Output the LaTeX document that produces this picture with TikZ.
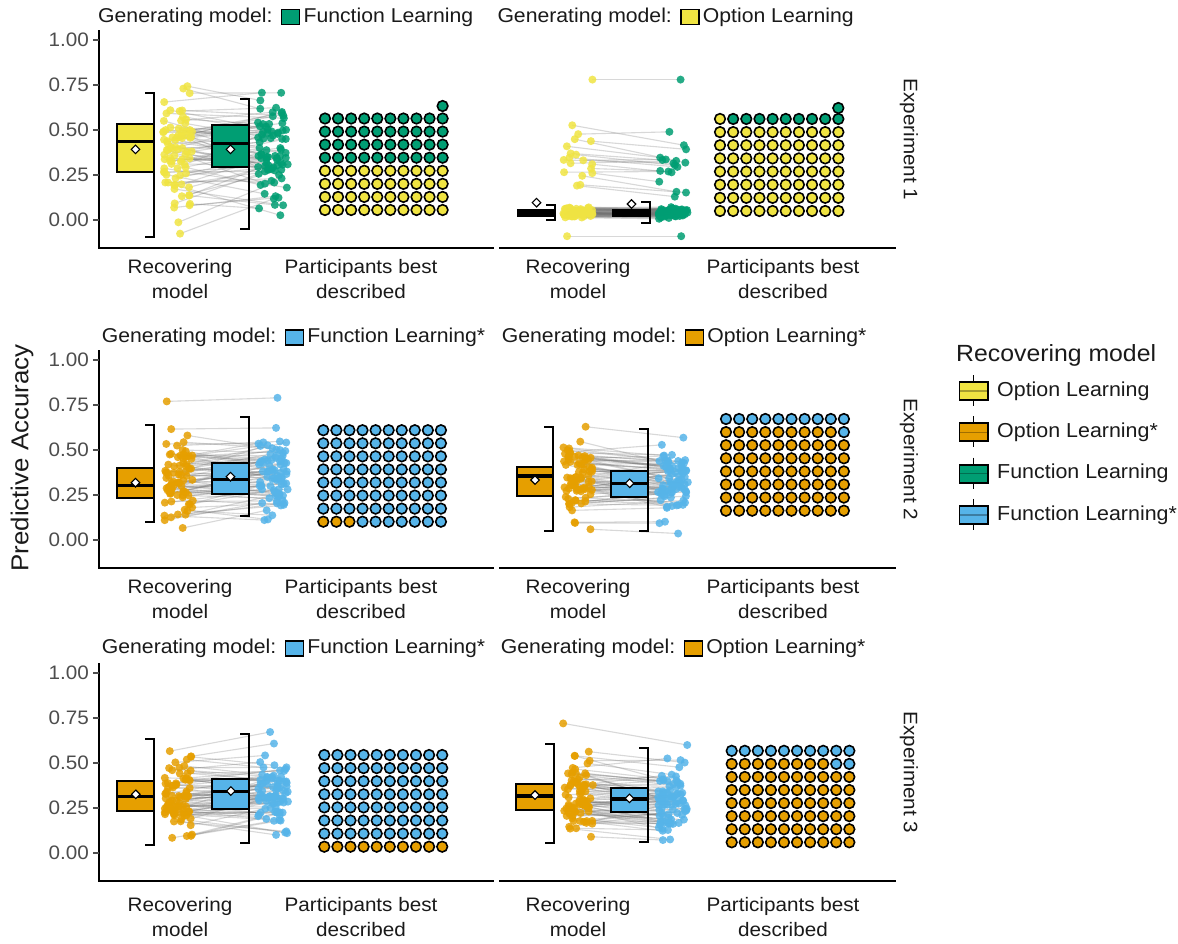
\documentclass[tikz,border=0pt]{standalone}
\usepackage{fontspec}
\setmainfont{Liberation Sans}[FakeStretch=1.06]
\usepackage{tikz}
\usetikzlibrary{positioning,shapes.geometric}
\definecolor{olyel}{HTML}{F0E442}
\definecolor{olora}{HTML}{E69F00}
\definecolor{flgrn}{HTML}{009E73}
\definecolor{flblu}{HTML}{56B4E9}
\definecolor{ticktxt}{HTML}{4D4D4D}
\definecolor{darktxt}{HTML}{1A1A1A}
% paired jittered points: n, meanA, sdA, meanB, sdB, colA, colB, seed, prefix
\newcommand{\jitpairs}[9]{%
\pgfmathsetseed{#8}%
\foreach \i in {1,...,#1}{%
\pgfmathsetmacro{\za}{rand+rand+rand}%
\pgfmathsetmacro{\zb}{0.85*\za+0.5*(rand+rand+rand)}%
\coordinate(#9a\i)at({178+15*rand},{220-180*(#2+#3*\za)});
\coordinate(#9b\i)at({273+15*rand},{220-180*(#4+#5*\zb)});}%
\foreach \i in {1,...,#1}{\draw[pairline](#9a\i)--(#9b\i);}%
\foreach \i in {1,...,#1}{\fill[jit,#6](#9a\i)circle[radius=4pt];\fill[jit,#7](#9b\i)circle[radius=4pt];}}
% box with bracket whisker: xl, xr, q3, median, q1, mean, top, bottom, colour
\newcommand{\halfbox}[9]{%
\draw[boxline,fill=#9](#1,#3)rectangle(#2,#5);
\draw[medline](#1,#4)--(#2,#4);
\draw[boxline](#2-9,#7)--(#2,#7)--(#2,#8)--(#2-9,#8);
\node[meanmark]at({(#1+#2)/2},#6){};}
% participants grid: x0, y0 (bottom left), step, nA, colA, colB
\newcommand{\dotgrid}[6]{%
\foreach \rr in {0,...,7}{\foreach \cc in {0,...,9}{%
\pgfmathtruncatemacro{\k}{\rr*10+\cc}%
\ifnum\k<#4\relax\def\dc{#5}\else\def\dc{#6}\fi
\draw[gdot,fill=\dc](#1+\cc*#3,#2-\rr*#3)circle[radius=5.3pt];}}}
\begin{document}
\begin{tikzpicture}[x=1pt,y=-1pt,
lbl/.style={font=\fontsize{19.5}{25}\selectfont,text=darktxt},
striplbl/.style={font=\fontsize{20}{25}\selectfont,text=darktxt,inner sep=0},
ticklbl/.style={font=\fontsize{19.5}{25}\selectfont,text=ticktxt,anchor=east,inner sep=0},
axisline/.style={line width=2.2pt,line cap=rect},
pairline/.style={line width=1.1pt,black!55,opacity=.28},
jit/.style={opacity=.85},
boxline/.style={line width=2pt,black,line join=miter},
medline/.style={line width=3.5pt,black},
meanmark/.style={diamond,draw,fill=white,line width=1.1pt,inner sep=0,minimum width=9pt,minimum height=9pt},
gdot/.style={draw=black,line width=1.6pt},
stripkey/.style={draw,line width=1.6pt,minimum width=18pt,minimum height=15pt,inner sep=0}]
\useasboundingbox[fill=white](0,0)rectangle(1178,943);
% axes, ticks and labels of each experiment
\foreach \row/\yo/\ly in {1/0/279.5,2/320/279.5,3/633/284.5}{
\begin{scope}[shift={(0,\yo)}]
\draw[axisline](98.7,31)--(98.7,248.3)--(493,248.3);
\draw[axisline](500,248.3)--(895,248.3);
\foreach \v[count=\k] in {0.00,0.25,0.50,0.75,1.00}{
\draw[ticktxt,line width=1.5pt](93,220-180*\v)--(98.7,220-180*\v);
\node[ticklbl](tk\row\k)at(89,220-180*\v){\v};}
\node[lbl,align=center](recl\row)at(180,\ly){Recovering\\model};
\node[lbl,align=center](bestl\row)at(361,\ly){Participants best\\described};
\node[lbl,align=center](recr\row)at(578,\ly){Recovering\\model};
\node[lbl,align=center](bestr\row)at(783,\ly){Participants best\\described};
\node[lbl,rotate=-90](exp\row)at(909,139.5){Experiment \row};
\end{scope}}
% strip titles
\foreach \sx/\sy/\col/\lab[count=\k] in {98/17/flgrn/Function Learning,497.3/17/olyel/Option Learning,101.7/337.3/flblu/Function Learning*,501.7/337.3/olora/Option Learning*,101.7/648.3/flblu/Function Learning*,500.7/648.3/olora/Option Learning*}{
\node[striplbl,anchor=west](gen\k)at(\sx,\sy){Generating model:};
\node[stripkey,fill=\col,right=8pt of gen\k](key\k){};
\node[striplbl,right=3pt of key\k](mod\k){\lab};}
% experiment 1
\jitpairs{81}{0.40}{0.19}{0.39}{0.18}{olyel}{flgrn}{11}{pa}
\halfbox{117}{154}{124}{141.7}{171.7}{149.3}{92.7}{237.3}{olyel}
\halfbox{212}{249}{125}{143.3}{167.3}{149.3}{98.7}{229.3}{flgrn}
\dotgrid{325}{210}{13.07}{40}{olyel}{flgrn}
\draw[gdot,fill=flgrn](442.6,106)circle[radius=5.3pt];
\begin{scope}[shift={(400,0)}]
\jitpairs{18}{0.32}{0.09}{0.27}{0.09}{olyel}{flgrn}{12}{pbs}
\jitpairs{61}{0.04}{0.012}{0.04}{0.012}{olyel}{flgrn}{13}{pbc}
\jitpairs{1}{0.78}{0}{0.78}{0}{olyel}{flgrn}{14}{pbt}
\jitpairs{1}{-0.09}{0}{-0.09}{0}{olyel}{flgrn}{15}{pbu}
\halfbox{118}{155}{210}{213}{216}{202.7}{205}{220}{olyel}
\halfbox{213}{250}{210}{213}{216}{204}{202}{223}{flgrn}
\dotgrid{320}{211}{13.15}{71}{olyel}{flgrn}
\draw[gdot,fill=flgrn](438.3,108)circle[radius=5.3pt];
\end{scope}
% experiment 2
\begin{scope}[shift={(0,320)}]
\jitpairs{79}{0.32}{0.11}{0.345}{0.11}{olora}{flblu}{21}{pc}
\jitpairs{1}{0.77}{0}{0.79}{0}{olora}{flblu}{22}{pct}
\halfbox{117}{154}{148.3}{165.7}{178.3}{162.7}{105}{202.3}{olora}
\halfbox{212}{249}{142.7}{159.3}{174}{156.7}{97.3}{195.7}{flblu}
\dotgrid{323.3}{201.7}{13.07}{3}{olora}{flblu}
\end{scope}
\begin{scope}[shift={(400,320)}]
\jitpairs{80}{0.335}{0.11}{0.315}{0.1}{olora}{flblu}{23}{pd}
\halfbox{116.7}{153.3}{146.7}{156}{175.7}{160}{107.3}{211}{olora}
\halfbox{211}{248.3}{150.7}{163.3}{176.7}{163.3}{109.3}{211}{flblu}
\dotgrid{326}{190.7}{13.1}{69}{olora}{flblu}
\end{scope}
% experiment 3
\begin{scope}[shift={(0,633)}]
\jitpairs{80}{0.32}{0.11}{0.34}{0.115}{olora}{flblu}{31}{pe}
\halfbox{117.3}{154.3}{148}{163.7}{178}{161.3}{106}{212}{olora}
\halfbox{212.3}{249.3}{146}{158.7}{176}{158}{101.3}{210.3}{flblu}
\dotgrid{324.3}{213.7}{13.1}{10}{olora}{flblu}
\end{scope}
\begin{scope}[shift={(400,633)}]
\jitpairs{79}{0.32}{0.1}{0.3}{0.1}{olora}{flblu}{32}{pf}
\jitpairs{1}{0.72}{0}{0.6}{0}{olora}{flblu}{33}{pft}
\halfbox{116}{154}{151}{163}{177}{162}{111.3}{210.3}{olora}
\halfbox{210.7}{248.3}{154.7}{166}{179.3}{165.3}{115.3}{209.3}{flblu}
\dotgrid{331.7}{209.3}{13.07}{68}{olora}{flblu}
\end{scope}
% legend
\node[lbl,font=\fontsize{23.4}{28}\selectfont,anchor=west,inner sep=0](legtitle)at(956,355){Recovering model};
\foreach \col/\lab[count=\k] in {olyel/Option Learning,olora/Option Learning*,flgrn/Function Learning,flblu/Function Learning*}{
\pgfmathsetmacro{\ky}{391+41.3*(\k-1)}
\draw[line width=1.6pt](973.5,\ky-16)--(973.5,\ky+15);
\draw[line width=1.8pt,fill=\col](959.5,\ky-9)rectangle(988,\ky+9);
\draw[black,opacity=.3,line width=1.5pt](959.5,\ky)--(988,\ky);
\node[lbl,font=\fontsize{20.2}{25}\selectfont,anchor=west,inner sep=0](leg\k)at(997,\ky){\lab};}
\node[lbl,font=\fontsize{24.4}{28}\selectfont,rotate=90](ytitle)at(22,458){Predictive Accuracy};
\end{tikzpicture}
\end{document}
